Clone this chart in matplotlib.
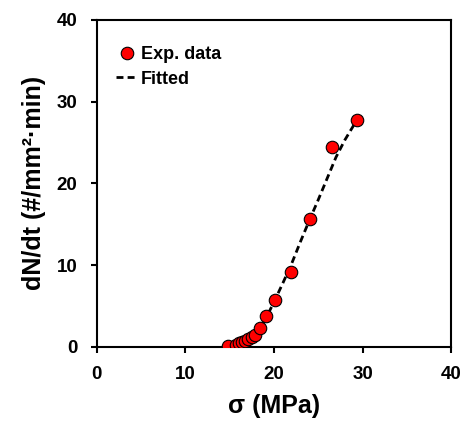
import matplotlib.pyplot as plt

plt.rcParams['font.family'] = ['Liberation Sans', 'DejaVu Sans']
plt.rcParams['font.weight'] = 'bold'

# measured points
sigma = [14.8, 15.7, 16.0, 16.35, 16.7, 17.1, 17.5, 17.9, 18.4, 19.1, 20.1, 21.9, 24.1, 26.6, 29.4]
rate = [0.05, 0.25, 0.45, 0.57, 0.73, 0.94, 1.19, 1.47, 2.36, 3.8, 5.7, 9.2, 15.7, 24.5, 27.7]

# fitted curve
fit_x = [14.8, 15.5, 16.0, 16.5, 17.0, 17.5, 18.0, 18.5, 19.0, 19.5, 20.0, 21.0, 22.0, 23.0, 24.0,
         25.0, 26.0, 27.0, 28.0, 29.0, 29.4]
fit_y = [0.0, 0.15, 0.3, 0.5, 0.8, 1.15, 1.7, 2.4, 3.3, 4.4, 5.5, 7.8, 10.2, 12.9, 15.5,
         18.0, 20.6, 23.2, 25.3, 27.1, 27.7]

fig = plt.figure(figsize=(4.66, 4.22), dpi=100)
ax = fig.add_axes([0.208, 0.178, 0.76, 0.775])

ax.plot(fit_x, fit_y, color='black', lw=2, ls=(0, (2.5, 1.5)), label='Fitted', zorder=2)
ax.plot(sigma, rate, 'o', ms=9, mfc='red', mec='black', mew=0.8, ls='none', label='Exp. data', zorder=3)

ax.set_xlim(0, 40)
ax.set_ylim(0, 40)
ax.set_xticks([0, 10, 20, 30, 40])
ax.set_yticks([0, 10, 20, 30, 40])
ax.tick_params(labelsize=13.5, width=1.5, length=4, direction='out', pad=10)
for s in ax.spines.values():
    s.set_linewidth(1.5)

ax.set_xlabel('σ (MPa)', fontsize=18, fontweight='bold', labelpad=8)
ax.set_ylabel('dN/dt (#/mm²·min)', fontsize=18, fontweight='bold', labelpad=8)

h, l = ax.get_legend_handles_labels()
ax.legend([h[1], h[0]], [l[1], l[0]], loc='upper left', bbox_to_anchor=(0.028, 0.948),
          frameon=False, fontsize=13, handlelength=1.2, handletextpad=0.2,
          borderaxespad=0, labelspacing=0.43, borderpad=0.5)

fig.savefig('out.png', dpi=100)
